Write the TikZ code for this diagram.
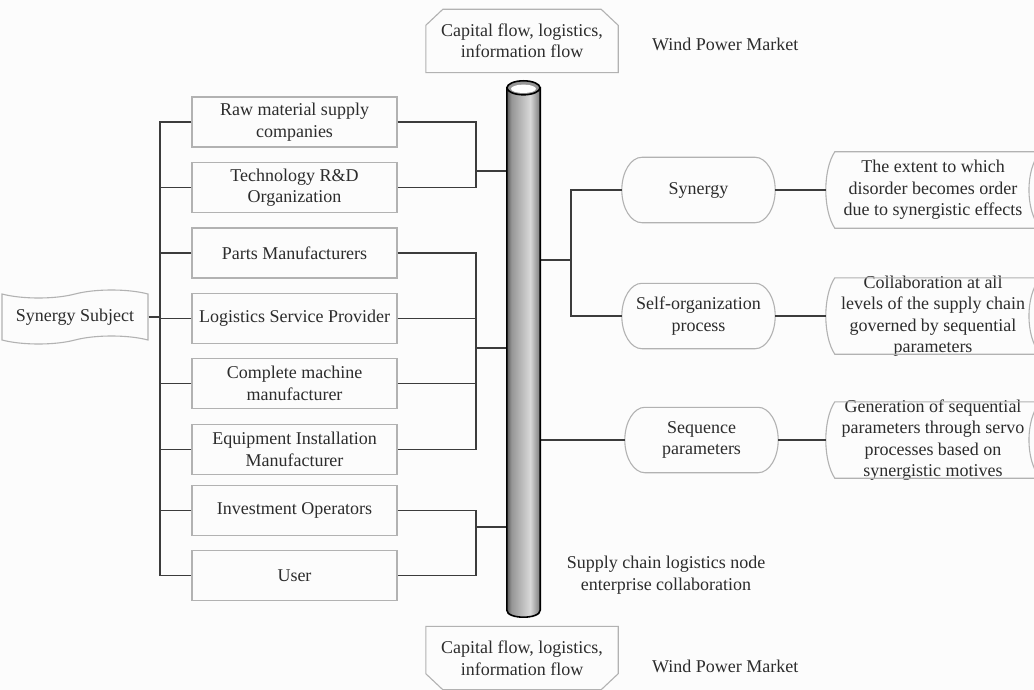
\documentclass[tikz,border=0pt]{standalone}
\usepackage{fontspec}
\setmainfont{Liberation Serif}
\usetikzlibrary{shapes.misc,shapes.symbols,calc}
\definecolor{ink}{HTML}{2C2C2C}
\definecolor{wire}{HTML}{3C3C3C}
\definecolor{frame}{HTML}{B2B2B2}
\definecolor{paper}{HTML}{FCFCFC}
\definecolor{cylA}{HTML}{5A5A5A}
\definecolor{cylB}{HTML}{969696}
\definecolor{cylC}{HTML}{D8D8D8}
\definecolor{cylD}{HTML}{7A7A7A}
% gray metallic look of the central pipe
\pgfdeclarehorizontalshading{cylbody}{100bp}{color(0bp)=(cylA); color(25bp)=(cylA); color(32bp)=(cylB); color(60bp)=(cylC); color(75bp)=(cylD); color(100bp)=(cylD)}

\begin{document}
\begin{tikzpicture}[x=1pt,y=-1pt,
  font=\fontsize{18}{21.5}\selectfont,
  actor/.style={draw=frame, line width=1.1pt, minimum width=205pt, minimum height=50pt,
    align=center, inner sep=1pt, text=ink},
  phase/.style={minimum width=153pt, minimum height=65pt, align=center,
    text=ink, inner sep=1pt},
  note/.style={minimum width=214pt, minimum height=76pt, align=center, text=ink,
    inner xsep=0pt, inner ysep=-8pt},
  flowbox/.style={minimum width=192pt, minimum height=63pt, align=center, text=ink,
    inner sep=0pt},
  plain/.style={text=ink, align=center, inner sep=0pt},
  conn/.style={draw=wire, line width=1.3pt},
  rim/.style={draw=frame, line width=1.1pt}]

% canvas
\fill[paper] (0,0) rectangle (1034,690);
\useasboundingbox (0,0) rectangle (1034,690);
\clip (0,0) rectangle (1034,690);

% market flows, top and bottom
\node[flowbox] (t1) at (522,41) {Capital flow, logistics,\\information flow};
\node[flowbox] (t2) at (522,658) {Capital flow, logistics,\\information flow};
\draw[rim] ($(t1.north west)+(17,0)$) -- ($(t1.north east)+(-17,0)$)
  -- ($(t1.north east)+(0,16)$) -- (t1.south east) -- (t1.south west)
  -- ($(t1.north west)+(0,16)$) -- cycle;
\draw[rim] (t2.north west) -- (t2.north east) -- ($(t2.south east)+(0,-16)$)
  -- ($(t2.south east)+(-17,0)$) -- ($(t2.south west)+(17,0)$)
  -- ($(t2.south west)+(0,-16)$) -- cycle;
\node[plain, anchor=west] (m1) at (652,44) {Wind Power Market};
\node[plain, anchor=west] (m2) at (652,666) {Wind Power Market};

% synergy subject
\node[tape, draw=frame, line width=1.1pt, minimum width=146pt, minimum height=54pt,
  text=ink, inner sep=2pt, tape bend height=8pt] (subj) at (75,317) {Synergy Subject};

% participating enterprises
\node[actor] (b1) at (294.5,122)   {Raw material supply\\companies};
\node[actor] (b2) at (294.5,187.5) {Technology R\&D\\Organization};
\node[actor] (b3) at (294.5,253)   {Parts Manufacturers};
\node[actor] (b4) at (294.5,318.5) {Logistics Service Provider};
\node[actor] (b5) at (294.5,383.5) {Complete machine\\manufacturer};
\node[actor] (b6) at (294.5,449.5) {Equipment Installation\\Manufacturer};
\node[actor] (b7) at (294.5,510.5) {Investment Operators};
\node[actor] (b8) at (294.5,575.5) {User};

% central pipe
\node[minimum width=33pt, minimum height=536pt, inner sep=0pt] (cyl) at (523.5,349) {};

% synergy mechanism
\node[phase] (p1) at (698.5,190) {Synergy};
\node[phase] (p2) at (698.5,316) {Self-organization\\process};
\node[phase] (p3) at (701.5,440) {Sequence\\parameters};
% capsule outlines with elliptical ends
\foreach \p in {p1,p2,p3}
  \draw[rim] ($(\p.north west)+(20,0)$) -- ($(\p.north east)+(-20,0)$)
    .. controls ($(\p.north east)+(-9,0)$) and ($(\p.east)+(0,-18)$) .. (\p.east)
    .. controls ($(\p.east)+(0,18)$) and ($(\p.south east)+(-9,0)$) .. ($(\p.south east)+(-20,0)$)
    -- ($(\p.south west)+(20,0)$)
    .. controls ($(\p.south west)+(9,0)$) and ($(\p.west)+(0,18)$) .. (\p.west)
    .. controls ($(\p.west)+(0,-18)$) and ($(\p.north west)+(9,0)$) .. cycle;

\node[note] (e1) at (933,190) {The extent to which\\disorder becomes order\\due to synergistic effects};
\node[note] (e2) at (933,316) {Collaboration at all\\levels of the supply chain\\governed by sequential\\parameters};
\node[note] (e3) at (933,440) {Generation of sequential\\parameters through servo\\processes based on\\synergistic motives};
\foreach \n in {e1,e2,e3}
  \draw[rim] ($(\n.north west)+(9,0)$) -- (\n.north east)
    .. controls ($(\n.north east)+(-15,18)$) and ($(\n.south east)+(-15,-18)$) .. (\n.south east)
    -- ($(\n.south west)+(9,0)$)
    .. controls ($(\n.south west)+(-3,-18)$) and ($(\n.north west)+(-3,18)$) .. cycle;

\node[plain] (sc) at (666,575) {Supply chain logistics node\\enterprise collaboration};

% left bus
\coordinate (lbus) at (160,0);
\draw[conn] (b1.west) -| (lbus |- b8.west) -- (b8.west);
\foreach \b in {b2,b3,b4,b5,b6,b7}
  \draw[conn] (\b.west) -- (lbus |- \b.west);
\draw[conn] (subj.east) -- (lbus |- subj.east);

% groups feeding the pipe
\coordinate (rbus) at (476,0);
\draw[conn] (b1.east) -| (rbus |- b2.east) -- (b2.east);
\draw[conn] (b3.east) -| (rbus |- b6.east) -- (b6.east);
\foreach \b in {b4,b5}
  \draw[conn] (\b.east) -- (rbus |- \b.east);
\draw[conn] (b7.east) -| (rbus |- b8.east) -- (b8.east);
\coordinate (j1) at (476,171);
\coordinate (j2) at (476,348);
\coordinate (j3) at (476,527);
\foreach \j in {j1,j2,j3}
  \draw[conn] (\j) -- (\j -| cyl.west);

% pipe to mechanisms
\coordinate (j4) at (571,260);
\draw[conn] (j4 -| cyl.east) -- (j4);
\draw[conn] (p1.west) -| (j4 |- p2.west) -- (p2.west);
\draw[conn] (cyl.east |- p3.west) -- (p3.west);
\draw[conn] (p1.east) -- (e1.west);
\draw[conn] (p2.east) -- (e2.west);
\draw[conn] (p3.east) -- (e3.west);

% pipe body and cap
\shadedraw[shading=cylbody, draw=black, line width=1.6pt]
  ($(cyl.north west)+(0,7)$) -- ($(cyl.south west)+(0,-7)$)
  .. controls ($(cyl.south west)+(0,2.3)$) and ($(cyl.south east)+(0,2.3)$) .. ($(cyl.south east)+(0,-7)$)
  -- ($(cyl.north east)+(0,7)$) -- cycle;
\filldraw[fill=cylB, draw=black, line width=1.6pt] ($(cyl.north)+(0,7)$) ellipse [x radius=16.5, y radius=7];
\fill[white] ($(cyl.north)+(0,8)$) ellipse [x radius=12.5, y radius=4.2];
\end{tikzpicture}
\end{document}
